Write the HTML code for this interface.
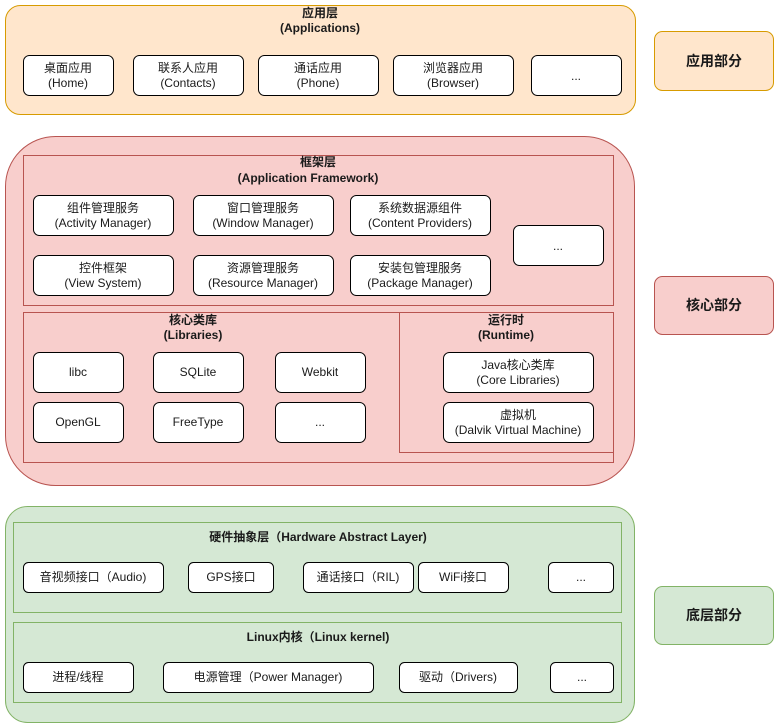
<!DOCTYPE html>
<html><head><meta charset="utf-8"><style>body{margin:0;background:#fff}svg{display:block}text{font-family:"Liberation Sans","Noto Sans CJK SC",sans-serif;font-size:12px;fill:#1a1a1a;text-anchor:middle}.b{font-weight:bold}.t{font-size:14px;font-weight:bold}</style></head><body>
<svg width="779" height="728" viewBox="0 0 779 728" xmlns="http://www.w3.org/2000/svg">
<g fill="#fff" stroke="#000" stroke-width="1">
</g>
<!-- App layer -->
<rect x="5.5" y="5.5" width="630" height="109" rx="15" fill="#ffe6cc" stroke="#d79b00"/>
<text x="320" y="17" class="b">应用层</text>
<text x="320" y="32" class="b">(Applications)</text>
<g fill="#fff" stroke="#000">
<rect x="23.5" y="55.5" width="90" height="40" rx="6"/>
<rect x="133.5" y="55.5" width="110" height="40" rx="6"/>
<rect x="258.5" y="55.5" width="120" height="40" rx="6"/>
<rect x="393.5" y="55.5" width="120" height="40" rx="6"/>
<rect x="531.5" y="55.5" width="90" height="40" rx="6"/>
</g>
<text x="68" y="72">桌面应用</text><text x="68" y="87">(Home)</text>
<text x="188" y="72">联系人应用</text><text x="188" y="87">(Contacts)</text>
<text x="318" y="72">通话应用</text><text x="318" y="87">(Phone)</text>
<text x="453" y="72">浏览器应用</text><text x="453" y="87">(Browser)</text>
<text x="576" y="80">...</text>
<rect x="654.5" y="31.5" width="119" height="59" rx="8" fill="#ffe6cc" stroke="#d79b00"/>
<text x="714" y="66" class="t">应用部分</text>

<!-- Core -->
<rect x="5.5" y="136.5" width="629" height="349" rx="50" fill="#f8cecc" stroke="#b85450"/>
<g fill="none" stroke="#b85450">
<rect x="23.5" y="155.5" width="590" height="150"/>
<rect x="23.5" y="312.5" width="590" height="150"/>
<rect x="399.5" y="312.5" width="214" height="140"/>
</g>
<text x="318" y="166" class="b">框架层</text>
<text x="308" y="182" class="b">(Application Framework)</text>
<g fill="#fff" stroke="#000">
<rect x="33.5" y="195.5" width="140" height="40" rx="6"/>
<rect x="193.5" y="195.5" width="140" height="40" rx="6"/>
<rect x="350.5" y="195.5" width="140" height="40" rx="6"/>
<rect x="33.5" y="255.5" width="140" height="40" rx="6"/>
<rect x="193.5" y="255.5" width="140" height="40" rx="6"/>
<rect x="350.5" y="255.5" width="140" height="40" rx="6"/>
<rect x="513.5" y="225.5" width="90" height="40" rx="6"/>
<rect x="33.5" y="352.5" width="90" height="40" rx="6"/>
<rect x="153.5" y="352.5" width="90" height="40" rx="6"/>
<rect x="275.5" y="352.5" width="90" height="40" rx="6"/>
<rect x="33.5" y="402.5" width="90" height="40" rx="6"/>
<rect x="153.5" y="402.5" width="90" height="40" rx="6"/>
<rect x="275.5" y="402.5" width="90" height="40" rx="6"/>
<rect x="443.5" y="352.5" width="150" height="40" rx="6"/>
<rect x="443.5" y="402.5" width="150" height="40" rx="6"/>
</g>
<text x="103" y="212">组件管理服务</text><text x="103" y="227">(Activity Manager)</text>
<text x="263" y="212">窗口管理服务</text><text x="263" y="227">(Window Manager)</text>
<text x="420" y="212">系统数据源组件</text><text x="420" y="227">(Content Providers)</text>
<text x="103" y="272">控件框架</text><text x="103" y="287">(View System)</text>
<text x="263" y="272">资源管理服务</text><text x="263" y="287">(Resource Manager)</text>
<text x="420" y="272">安装包管理服务</text><text x="420" y="287">(Package Manager)</text>
<text x="558" y="250">...</text>
<text x="193" y="324" class="b">核心类库</text><text x="193" y="339" class="b">(Libraries)</text>
<text x="506" y="324" class="b">运行时</text><text x="506" y="339" class="b">(Runtime)</text>
<text x="78" y="376">libc</text><text x="198" y="376">SQLite</text><text x="320" y="376">Webkit</text>
<text x="78" y="426">OpenGL</text><text x="198" y="426">FreeType</text><text x="320" y="426">...</text>
<text x="518" y="369">Java核心类库</text><text x="518" y="384">(Core Libraries)</text>
<text x="518" y="419">虚拟机</text><text x="518" y="434">(Dalvik Virtual Machine)</text>
<rect x="654.5" y="276.5" width="119" height="58" rx="8" fill="#f8cecc" stroke="#b85450"/>
<text x="714" y="310" class="t">核心部分</text>

<!-- Bottom -->
<rect x="5.5" y="506.5" width="629" height="216" rx="22" fill="#d5e8d4" stroke="#82b366"/>
<g fill="none" stroke="#82b366">
<rect x="13.5" y="522.5" width="608" height="90"/>
<rect x="13.5" y="622.5" width="608" height="80"/>
</g>
<text x="318" y="541" class="b">硬件抽象层（Hardware Abstract Layer)</text>
<text x="318" y="641" class="b">Linux内核（Linux kernel)</text>
<g fill="#fff" stroke="#000">
<rect x="23.5" y="562.5" width="140" height="30" rx="5"/>
<rect x="188.5" y="562.5" width="85" height="30" rx="5"/>
<rect x="303.5" y="562.5" width="110" height="30" rx="5"/>
<rect x="446.5" y="562.5" width="62" height="30" rx="5" visibility="hidden"/>
<rect x="418.5" y="562.5" width="90" height="30" rx="5"/>
<rect x="548.5" y="562.5" width="65" height="30" rx="5"/>
<rect x="23.5" y="662.5" width="110" height="30" rx="5"/>
<rect x="163.5" y="662.5" width="210" height="30" rx="5"/>
<rect x="399.5" y="662.5" width="118" height="30" rx="5"/>
<rect x="550.5" y="662.5" width="63" height="30" rx="5"/>
</g>
<text x="93" y="581">音视频接口（Audio)</text>
<text x="231" y="581">GPS接口</text>
<text x="358" y="581">通话接口（RIL)</text>
<text x="463" y="581">WiFi接口</text>
<text x="581" y="581">...</text>
<text x="78" y="681">进程/线程</text>
<text x="268" y="681">电源管理（Power Manager)</text>
<text x="458" y="681">驱动（Drivers)</text>
<text x="582" y="681">...</text>
<rect x="654.5" y="586.5" width="119" height="58" rx="8" fill="#d5e8d4" stroke="#82b366"/>
<text x="714" y="620" class="t">底层部分</text>
</svg>
</body></html>
